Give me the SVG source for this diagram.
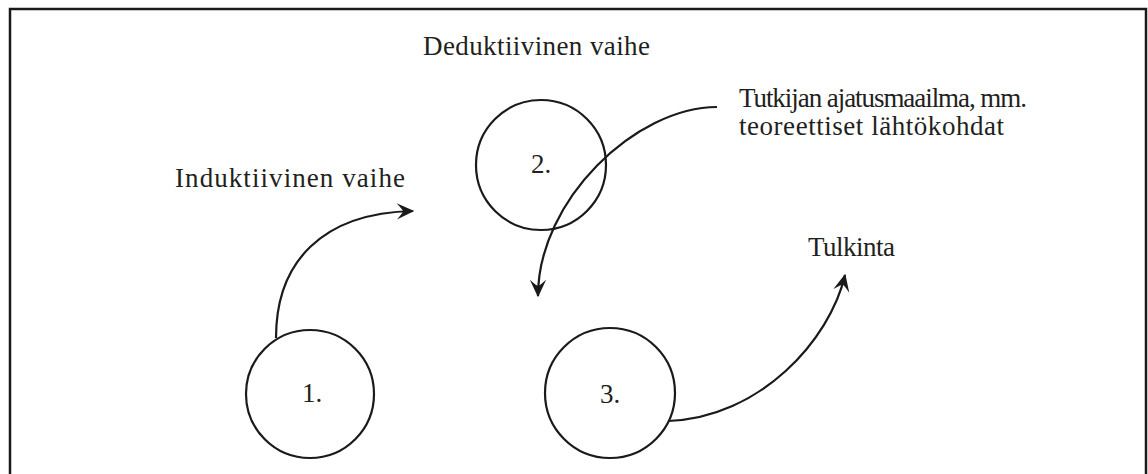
<svg xmlns="http://www.w3.org/2000/svg" width="1148" height="474" viewBox="0 0 1148 474">
<style>
.frame{fill:none;stroke:#1a1a1a;stroke-width:2.5}
.node{fill:none;stroke:#1a1a1a;stroke-width:2.2}
.conn{fill:none;stroke:#1a1a1a;stroke-width:2.2}
text{font-family:"Liberation Serif","DejaVu Serif",serif;font-size:27px;fill:#231f20}
.num{text-anchor:middle}
</style>
<defs>
<marker id="ah" markerUnits="userSpaceOnUse" markerWidth="20" markerHeight="20" viewBox="-14 -8 16 16" refX="0" refY="0" orient="auto">
<path d="M1,0 L-13,-6.5 Q-8,-1 -8,0 Q-8,1 -13,6.5 Z" fill="#1a1a1a"/>
</marker>
</defs>
<rect class="frame" x="10" y="9" width="1136" height="490"/>
<g id="connectors">
<path class="conn" d="M276,338 C276,262 322,213 413,211" marker-end="url(#ah)"/>
<path class="conn" d="M717,107 C636,107 538,200 538,296" marker-end="url(#ah)"/>
<path class="conn" d="M668,421 C760,418 830,340 845,275" marker-end="url(#ah)"/>
</g>
<g id="node1">
<circle class="node" cx="310" cy="394" r="64"/>
<text class="num" x="312" y="402">1.</text>
</g>
<g id="node2">
<circle class="node" cx="541" cy="165" r="65"/>
<text class="num" x="541" y="173">2.</text>
</g>
<g id="node3">
<circle class="node" cx="610" cy="393" r="65"/>
<text class="num" x="610" y="403">3.</text>
</g>
<g id="labels">
<text x="423" y="55" textLength="227" lengthAdjust="spacing">Deduktiivinen vaihe</text>
<text x="175" y="187" textLength="230" lengthAdjust="spacing">Induktiivinen vaihe</text>
<text x="739" y="107" textLength="288" lengthAdjust="spacing">Tutkijan ajatusmaailma, mm.</text>
<text x="739" y="135" textLength="265" lengthAdjust="spacing">teoreettiset lähtökohdat</text>
<text x="808" y="256" textLength="87" lengthAdjust="spacing">Tulkinta</text>
</g>
</svg>
